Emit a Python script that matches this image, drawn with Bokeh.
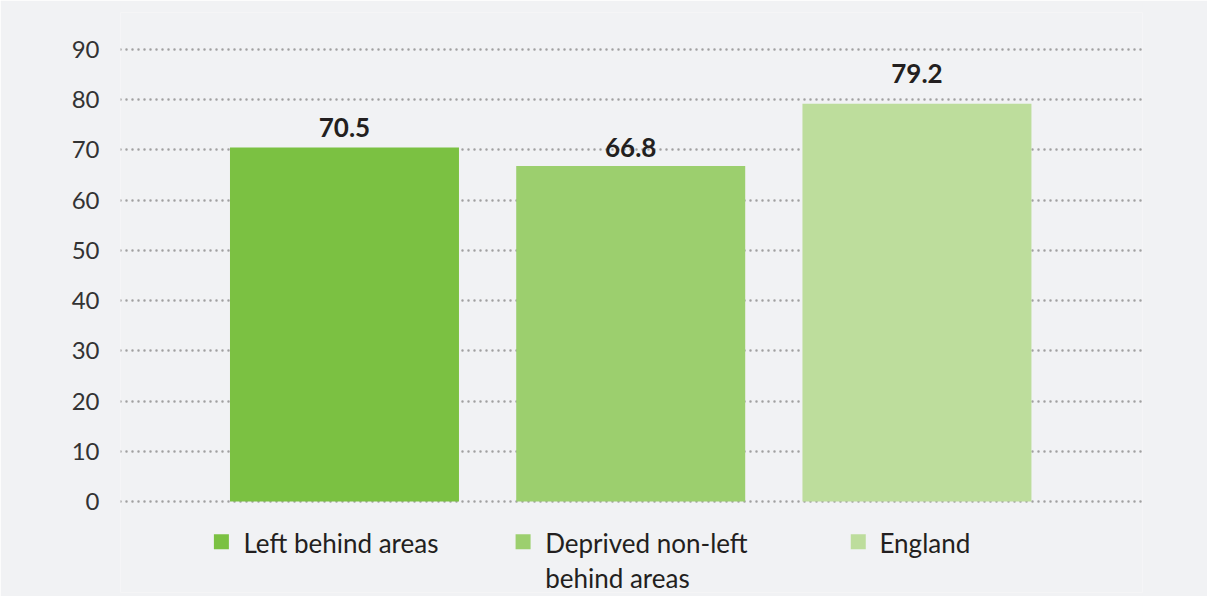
from bokeh.plotting import figure
from bokeh.models import ColumnDataSource, Range1d, FixedTicker
from bokeh.core.properties import value
from bokeh.embed import file_html
from bokeh.resources import INLINE

# ---- data ----
categories = ["Left behind areas", "Deprived non-left behind areas", "England"]
legend_labels = ["Left behind areas", "Deprived non-left\nbehind areas", "England"]
values = [70.5, 66.8, 79.2]
y_ticks = [0, 10, 20, 30, 40, 50, 60, 70, 80, 90]

# ---- styles ----
bar_colors = ["#7BC142", "#9CCF6E", "#BDDD9C"]
bg = "#F1F2F4"
font = "Lato"
label_gap_px = [20, 19, 30]
legend_square_dx = [-0.43, -0.376, -0.205]
legend_text_dx = [-0.353, -0.299, -0.131]
legend_square_y = -8.0
legend_text_y = -5.0

idx = list(range(len(categories)))

p = figure(width=1207, height=596, output_backend="svg", toolbar_location=None,
           x_range=Range1d(-0.7825, 2.788), y_range=Range1d(-18.12, 97.37),
           min_border_left=120, min_border_right=65, min_border_top=12, min_border_bottom=4,
           x_axis_location=None, background_fill_color=bg, border_fill_color=bg,
           outline_line_color=None)

p.xgrid.grid_line_color = None
p.ygrid.ticker = FixedTicker(ticks=y_ticks)
p.ygrid.grid_line_color = "#A0A0A0"
p.ygrid.grid_line_width = 2.5
p.ygrid.grid_line_dash = "0 6"
p.ygrid.grid_line_cap = "round"

ax = p.yaxis[0]
ax.ticker = FixedTicker(ticks=y_ticks)
ax.axis_line_color = None
ax.major_tick_line_color = None
ax.minor_tick_line_color = None
ax.major_tick_out = 0
ax.major_tick_in = 0
ax.major_label_standoff = 21
ax.major_label_text_font = font
ax.major_label_text_font_size = "24px"
ax.major_label_text_color = "#333333"

src = ColumnDataSource(dict(x=idx, top=values, color=bar_colors,
                            label=[f"{v:.1f}" for v in values],
                            yoff=[-g for g in label_gap_px]))
p.vbar(x="x", top="top", bottom=0, width=0.8, fill_color="color", line_color=None, source=src)
p.text(x="x", y="top", text="label", y_offset="yoff", source=src,
       text_align="center", text_baseline="alphabetic",
       text_font=value(font), text_font_style="bold", text_font_size="26px",
       text_color="#231F20")

leg = ColumnDataSource(dict(
    sx=[i + d for i, d in zip(idx, legend_square_dx)],
    tx=[i + d for i, d in zip(idx, legend_text_dx)],
    sy=[legend_square_y] * len(idx),
    ty=[legend_text_y] * len(idx),
    color=bar_colors,
    label=legend_labels))
p.scatter(x="sx", y="sy", marker="square", size=15, fill_color="color", line_color=None, source=leg)
p.text(x="tx", y="ty", text="label", source=leg, text_align="left", text_baseline="top",
       text_font=value(font), text_font_size="26px", text_color="#231F20",
       text_line_height=1.1)

open("out.html", "w").write(file_html(p, INLINE))
